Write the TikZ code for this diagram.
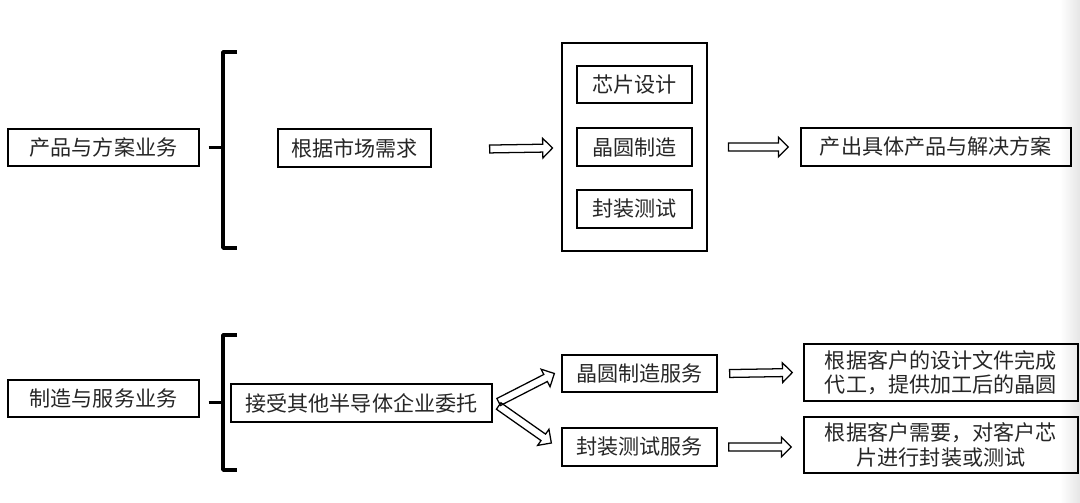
\documentclass[tikz,border=0pt]{standalone}
\usepackage{fontspec}
\newfontfamily\cjk{Noto Sans CJK SC}
\usetikzlibrary{calc}
% hollow block arrow from #1 to #2
\newcommand\harrow[2]{%
  \path ($(#2)!7pt!(#1)$) coordinate (hb);
  \draw[line width=0.9pt] ($(#1)!2.8pt!90:(#2)$) -- ($(hb)!2.8pt!90:(#2)$)
    -- ($(hb)!7pt!90:(#2)$) -- (#2) -- ($(hb)!7pt!-90:(#2)$)
    -- ($(hb)!2.8pt!-90:(#2)$) -- ($(#1)!2.8pt!-90:(#2)$) -- cycle;}

\begin{document}
\begin{tikzpicture}[x=0.025cm,y=-0.025cm,
  box/.style={draw,line width=0.9pt,inner sep=0pt,align=center,text=black!85,
    font=\cjk\fontsize{15pt}{17.5pt}\selectfont},
  brace/.style={line width=2.5pt,line join=round}]
\useasboundingbox (0,0) rectangle (1080,503);
\shade[left color=white,right color=black!10] (1060,0) rectangle (1080,503);
% Product section
  \node[box,minimum width=4.775cm,minimum height=0.925cm] (prod) at (103.5,147.5) {产品与方案业务};
  \draw[brace] (237,52) -- (223,52) -- (223,248) -- (237,248);
  \draw[brace] ($(prod.east)+(9,0)$) -- +(15,0);
  \node[box,minimum width=3.825cm,minimum height=0.95cm] (mkt) at (354.5,148) {根据市场需求};
  \node[draw,line width=2pt,minimum width=3.625cm,minimum height=5.2cm] (frame) at (634.5,147) {};
  \node[box,minimum width=2.875cm,minimum height=0.925cm] (design) at (634.5,84.5) {芯片设计};
  \node[box,minimum width=2.875cm,minimum height=0.95cm] (fab) at (634.5,147) {晶圆制造};
  \node[box,minimum width=2.875cm,minimum height=0.95cm] (pkg) at (634.5,209) {封装测试};
  \node[box,minimum width=6.75cm,minimum height=0.95cm] (sol) at (936,147) {产出具体产品与解决方案};
  \coordinate (a1s) at ($(mkt.east)+(58,1)$);
  \coordinate (a1e) at ($(frame.west)+(-8,1)$);
  \coordinate (a2s) at ($(frame.east)+(20,0)$);
  \coordinate (a2e) at ($(sol.west)+(-12,0)$);
  \harrow{a1s}{a1e}
  \harrow{a2s}{a2e}
% Service section
  \node[box,minimum width=4.775cm,minimum height=0.925cm] (mfg) at (103.5,398.5) {制造与服务业务};
  \draw[brace] (237,335) -- (223,335) -- (223,470) -- (237,470);
  \draw[brace] ($(mfg.east)+(9,4)$) -- +(15,0);
  \node[box,minimum width=6.525cm,minimum height=0.95cm] (order) at (361.5,403) {接受其他半导体企业委托};
  \node[box,minimum width=3.875cm,minimum height=0.925cm] (fabsvc) at (639.5,373.5) {晶圆制造服务};
  \node[box,minimum width=3.875cm,minimum height=0.95cm] (pkgsvc) at (639.5,447) {封装测试服务};
  \node[box,minimum width=6.85cm,minimum height=1.425cm] (fabout) at (941,372.5) {根据客户的设计文件完成\\代工，提供加工后的晶圆};
  \node[box,minimum width=6.85cm,minimum height=1.4cm] (pkgout) at (941,445) {根据客户需要，对客户芯\\片进行封装或测试};
  \coordinate (d1s) at ($(order.east)+(6,-1)$);
  \coordinate (d1e) at ($(fabsvc.west)+(-7,0)$);
  \coordinate (d2s) at ($(order.east)+(6,3)$);
  \coordinate (d2e) at ($(pkgsvc.west)+(-10,-4)$);
  \harrow{d1s}{d1e}
  \harrow{d2s}{d2e}
  \coordinate (a3s) at ($(fabsvc.east)+(12,0)$);
  \coordinate (a3e) at ($(fabout.west)+(-11,0)$);
  \coordinate (a4s) at ($(pkgsvc.east)+(11,0)$);
  \coordinate (a4e) at ($(pkgout.west)+(-12,2)$);
  \harrow{a3s}{a3e}
  \harrow{a4s}{a4e}
\end{tikzpicture}
\end{document}
